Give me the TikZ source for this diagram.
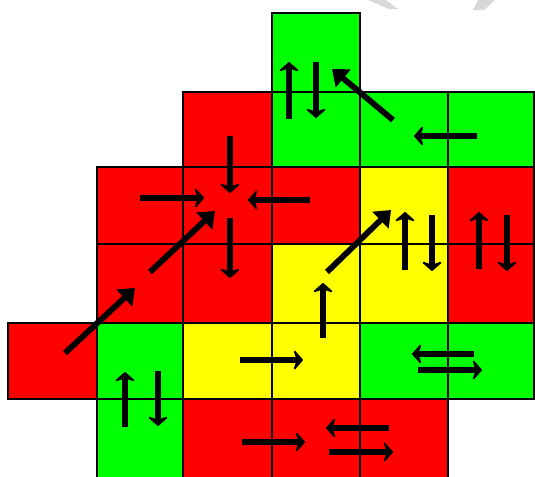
\documentclass[tikz,border=0pt]{standalone}
\usetikzlibrary{arrows.meta}
\definecolor{cred}{RGB}{255,0,0}
\definecolor{cgreen}{RGB}{0,255,0}
\definecolor{cyellow}{RGB}{255,255,0}
\definecolor{wm}{RGB}{216,216,216}
\tikzset{
  cell/.style={draw=black,line width=1.5pt},
  arr/.style={line width=4.4pt,-{Stealth[length=8pt,width=18pt,inset=3pt,round]}},
  darr/.style={line width=4.4pt,-{Triangle[length=11pt,width=17pt]}},
}
\begin{document}
\begin{tikzpicture}[x=0.75pt,y=-0.75pt]
\useasboundingbox (0,0) rectangle (535,476);
\clip (0,0) rectangle (535,476);
% watermark fragments
\fill[wm] (368,0) -- (386,0) -- (398,9) -- (389,9) -- cycle;
\fill[wm] (414,0) arc[start angle=180,end angle=360,x radius=19,y radius=10] -- cycle;
\fill[wm] (478,0) -- (495,0) -- (484,10) -- (473,10) -- cycle;
% cells: column edges 8,97,183,272,360,448,534 ; row edges 13,92,167,244,323,399,476
% row 0
\draw[cell,fill=cgreen] (272,13) rectangle (360,92);
% row 1
\draw[cell,fill=cred]   (183,92) rectangle (272,167);
\draw[cell,fill=cgreen] (272,92) rectangle (360,167);
\draw[cell,fill=cgreen] (360,92) rectangle (448,167);
\draw[cell,fill=cgreen] (448,92) rectangle (534,167);
% row 2
\draw[cell,fill=cred]    (97,167) rectangle (183,244);
\draw[cell,fill=cred]    (183,167) rectangle (272,244);
\draw[cell,fill=cred]    (272,167) rectangle (360,244);
\draw[cell,fill=cyellow] (360,167) rectangle (448,244);
\draw[cell,fill=cred]    (448,167) rectangle (534,244);
% row 3
\draw[cell,fill=cred]    (97,244) rectangle (183,323);
\draw[cell,fill=cred]    (183,244) rectangle (272,323);
\draw[cell,fill=cyellow] (272,244) rectangle (360,323);
\draw[cell,fill=cyellow] (360,244) rectangle (448,323);
\draw[cell,fill=cred]    (448,244) rectangle (534,323);
% row 4
\draw[cell,fill=cred]    (8,323) rectangle (97,399);
\draw[cell,fill=cgreen]  (97,323) rectangle (183,399);
\draw[cell,fill=cyellow] (183,323) rectangle (272,399);
\draw[cell,fill=cyellow] (272,323) rectangle (360,399);
\draw[cell,fill=cgreen]  (360,323) rectangle (448,399);
\draw[cell,fill=cgreen]  (448,323) rectangle (534,399);
% row 5
\draw[cell,fill=cgreen] (97,399) rectangle (183,480);
\draw[cell,fill=cred]   (183,399) rectangle (272,480);
\draw[cell,fill=cred]   (272,399) rectangle (360,480);
\draw[cell,fill=cred]   (360,399) rectangle (448,480);
% arrows
\draw[arr] (289,119) -- (289,62);
\draw[arr] (316,62) -- (316,118);
\draw[darr] (393,120) -- (332,69);
\draw[arr] (477,136) -- (414,136);
\draw[arr] (230,136) -- (230,193);
\draw[arr] (140,198) -- (204,198);
\draw[arr] (310,200) -- (248,200);
\draw[darr] (65,353) -- (135,288);
\draw[darr] (150,272) -- (215,211);
\draw[arr] (230,218) -- (230,278);
\draw[darr] (327,272) -- (391,210);
\draw[arr] (405,270) -- (405,212);
\draw[arr] (432,215) -- (432,271);
\draw[arr] (479,269) -- (479,212);
\draw[arr] (507,215) -- (507,271);
\draw[arr] (323,338) -- (323,283);
\draw[arr] (240,360) -- (303,360);
\draw[arr] (474,354) -- (412,354);
\draw[arr] (418,370) -- (482,370);
\draw[arr] (125,427) -- (125,372);
\draw[arr] (158,371) -- (158,426);
\draw[arr] (242,442) -- (305,442);
\draw[arr] (389,428) -- (326,428);
\draw[arr] (329,452) -- (393,452);
\end{tikzpicture}
\end{document}
